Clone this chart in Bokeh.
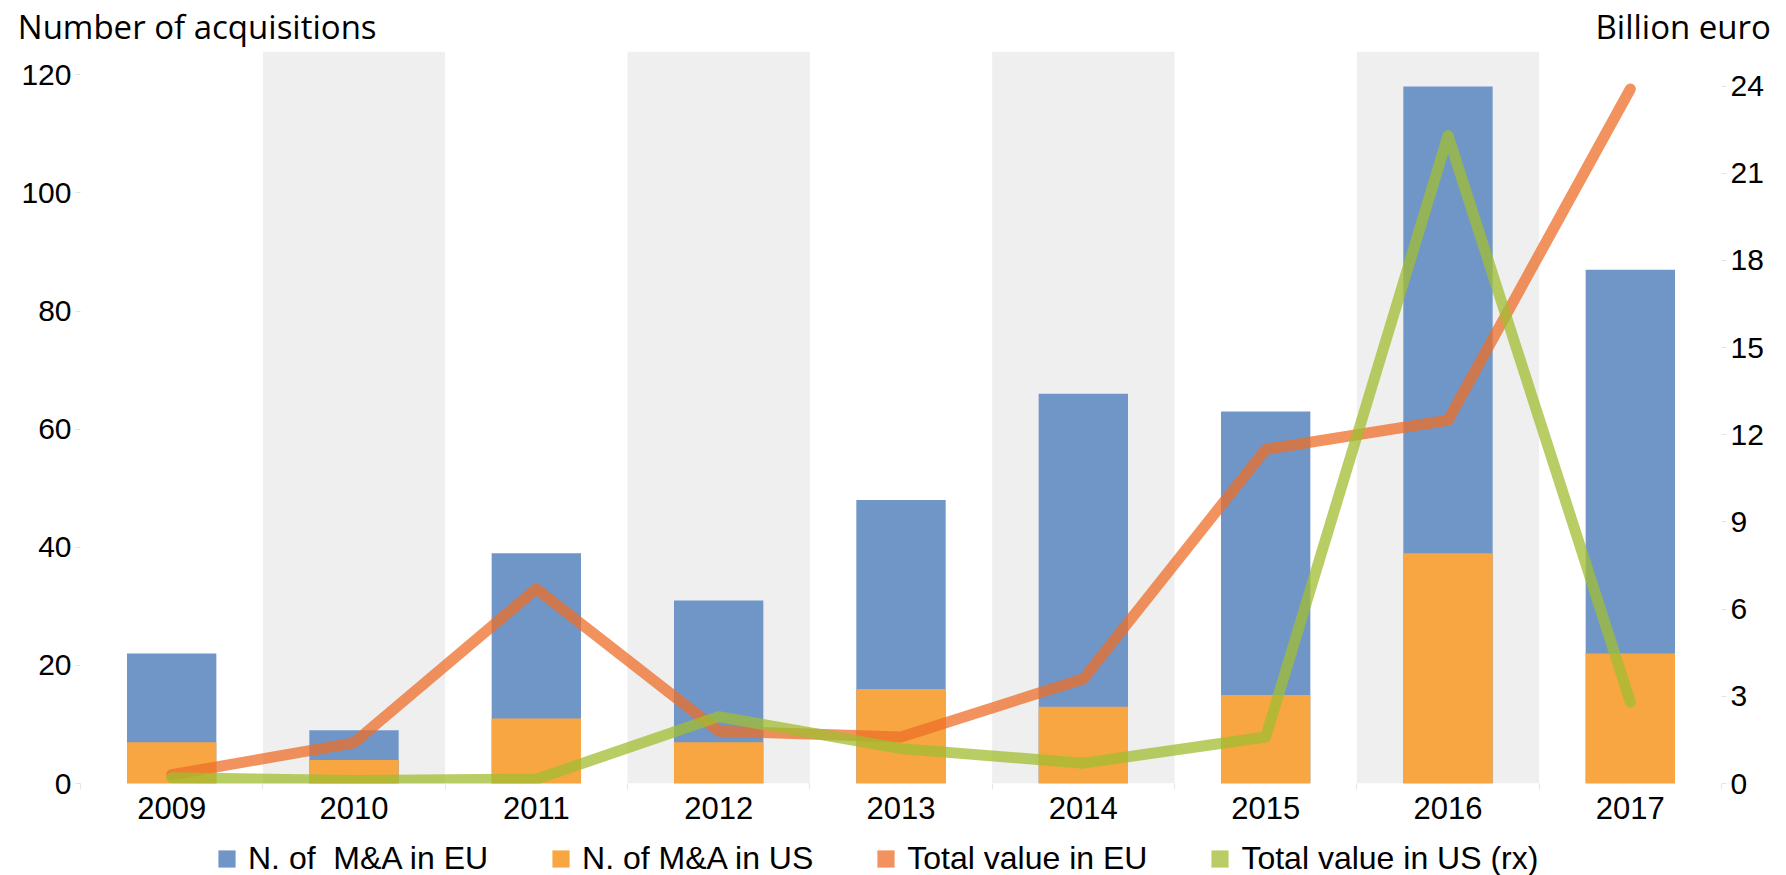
from bokeh.plotting import figure
from bokeh.layouts import column
from bokeh.models import (Range1d, LinearAxis, FixedTicker, Legend, LegendItem)
from bokeh.embed import file_html
from bokeh.resources import INLINE

# ---------------- data ----------------
years = ["2009", "2010", "2011", "2012", "2013", "2014", "2015", "2016", "2017"]
ma_eu = [22, 9, 39, 31, 48, 66, 63, 118, 87]          # N. of M&A in EU
ma_us = [7, 4, 11, 7, 16, 13, 15, 39, 22]              # N. of M&A in US
value_eu = [0.3, 1.4, 6.7, 1.8, 1.6, 3.6, 11.5, 12.5, 23.9]   # Total value in EU (bn euro)
value_us = [0.2, 0.1, 0.15, 2.3, 1.2, 0.7, 1.6, 22.3, 2.8]    # Total value in US (bn euro)
left_ticks = [0, 20, 40, 60, 80, 100, 120]
right_ticks = [0, 3, 6, 9, 12, 15, 18, 21, 24]
left_title = "Number of acquisitions"
right_title = "Billion euro"
legend_labels = ["N. of  M&A in EU", "N. of M&A in US", "Total value in EU",
                 "Total value in US (rx)"]

LEFT_MAX = 123.94
RIGHT_MAX = 25.19

C_BLUE = "#7096C8"
C_ORANGE = "#F8A642"
C_LINE_EU = "#ED6E28"
C_LINE_US = "#A0BE32"
C_BAND = "#EFEFEF"
TICK_FONT = "Liberation Sans"
TITLE_FONT = "Open Sans"

# category slots on a numeric x scale: slot i spans [i, i+1]
xc = [i + 0.5 for i in range(len(years))]
bounds = list(range(len(years) + 1))
shaded_x = xc[1::2]
year_labels = {c: y for c, y in zip(xc, years)}
# header titles placed (in slot units) above the plot area
TITLE_AT = {0.64: left_title, 8.79: right_title}

W = 1786
FRAME_L, FRAME_R = 80, 1721
MAIN_H, FOOT_H = 835, 40

p = figure(width=W, height=MAIN_H, title=None,
           x_range=Range1d(0, len(years)), y_range=Range1d(0, LEFT_MAX),
           output_backend="svg", toolbar_location=None,
           min_border_left=FRAME_L, min_border_right=W - FRAME_R,
           min_border_top=50, min_border_bottom=52)
p.extra_y_ranges = {"right": Range1d(0, RIGHT_MAX)}
p.outline_line_color = None
p.xgrid.grid_line_color = None
p.ygrid.grid_line_color = None

# alternating shaded bands
p.vbar(x=shaded_x, top=LEFT_MAX, bottom=0, width=1.0,
       fill_color=C_BAND, line_color=None)

# bars (US drawn in front of EU)
p.vbar(x=xc, top=ma_eu, width=0.49, fill_color=C_BLUE, line_color=None)
p.vbar(x=xc, top=ma_us, width=0.49, fill_color=C_ORANGE, line_color=None)

# lines on right axis
p.line(x=xc, y=value_eu, y_range_name="right", line_width=11,
       line_color=C_LINE_EU, line_alpha=0.75, line_cap="round", line_join="round")
p.line(x=xc, y=value_us, y_range_name="right", line_width=11,
       line_color=C_LINE_US, line_alpha=0.75, line_cap="round", line_join="round")

# y axes
yl = p.yaxis[0]
yl.ticker = FixedTicker(ticks=left_ticks)
yr = LinearAxis(y_range_name="right", ticker=FixedTicker(ticks=right_ticks))
p.add_layout(yr, "right")
for ax in (yl, yr):
    ax.axis_line_color = None
    ax.major_tick_line_color = "#E3E3E3"
    ax.major_tick_out = 5
    ax.major_tick_in = 0
    ax.minor_tick_line_color = None
    ax.major_label_text_font = TICK_FONT
    ax.major_label_text_font_size = "30px"
    ax.major_label_text_color = "black"
    ax.major_label_standoff = 4

# x axis: year labels at slot centres, faint tick marks at slot boundaries
xa = p.xaxis[0]
xa.ticker = FixedTicker(ticks=xc, minor_ticks=bounds)
xa.major_label_overrides = year_labels
xa.axis_line_color = None
xa.major_tick_line_color = None
xa.major_tick_out = 0
xa.major_tick_in = 0
xa.minor_tick_line_color = "#E6E6E6"
xa.minor_tick_out = 6
xa.minor_tick_in = 0
xa.major_label_standoff = 7
xa.major_label_text_font = TICK_FONT
xa.major_label_text_font_size = "31px"
xa.major_label_text_color = "black"

# header: the two axis titles
head = LinearAxis(ticker=FixedTicker(ticks=list(TITLE_AT.keys())),
                  major_label_overrides=TITLE_AT)
head.axis_line_color = None
head.major_tick_line_color = None
head.minor_tick_line_color = None
head.major_tick_out = 0
head.major_tick_in = 0
head.major_label_standoff = 3
head.major_label_text_font = TITLE_FONT
head.major_label_text_font_size = "33px"
head.major_label_text_color = "black"
p.add_layout(head, "above")

# ---------------- footer with the legend ----------------
foot = figure(width=W, height=FOOT_H, title=None,
              x_range=Range1d(0, 1), y_range=Range1d(0, 1),
              x_axis_location=None, y_axis_location=None,
              output_backend="svg", toolbar_location=None,
              min_border_left=FRAME_L, min_border_right=W - FRAME_R,
              min_border_top=0, min_border_bottom=0)
foot.outline_line_color = None
foot.grid.grid_line_color = None

# legend swatches: one proxy point each, kept outside the footer's visible range
swatch_colors = [(C_BLUE, 1.0), (C_ORANGE, 1.0), (C_LINE_EU, 0.75), (C_LINE_US, 0.75)]
items = []
for lab, (col, alpha) in zip(legend_labels, swatch_colors):
    sw = foot.scatter(x=[-5], y=[-5], marker="square", size=17, fill_color=col,
                      fill_alpha=alpha, line_color=None)
    items.append(LegendItem(label=lab, renderers=[sw]))

legend = Legend(items=items, orientation="horizontal", location=(125, -4.5),
                glyph_width=43, glyph_height=43, label_height=43, label_standoff=0,
                spacing=51, padding=0, margin=0, border_line_color=None,
                background_fill_alpha=0, label_text_font=TICK_FONT,
                label_text_font_size="32px", label_text_color="black")
foot.add_layout(legend)

layout = column(p, foot, spacing=0)
open("out.html", "w").write(file_html(layout, INLINE))
